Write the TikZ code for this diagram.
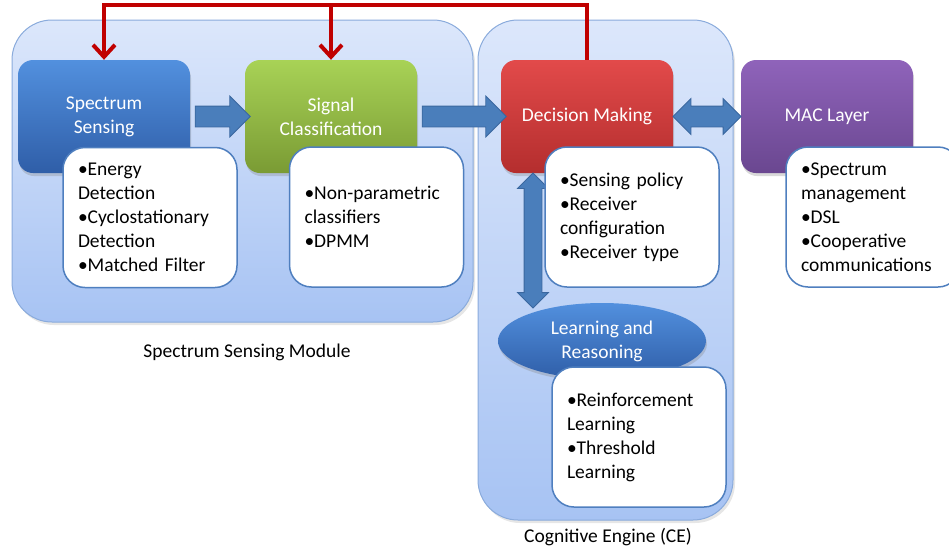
\documentclass[tikz,border=0pt]{standalone}
\usepackage{fontspec}
\setmainfont{Carlito}
\usetikzlibrary{shapes.arrows,shapes.geometric,shadows,arrows.meta,calc}
\definecolor{contTop}{HTML}{DCE7FB}
\definecolor{contBot}{HTML}{A7C3F3}
\definecolor{contLine}{HTML}{8AABDC}
\definecolor{listLine}{HTML}{4F7FBF}
\definecolor{arrFill}{HTML}{4A7EBB}
\definecolor{arrLine}{HTML}{3A679F}
\definecolor{redC}{HTML}{C00000}
\begin{document}
\begin{tikzpicture}[x=1pt,y=1pt,
  font=\fontsize{19.5}{24}\selectfont,
  container/.style={draw=contLine, line width=1pt, rounded corners=40pt, top color=contTop, bottom color=contBot,
     drop shadow={shadow xshift=2pt, shadow yshift=-3pt, opacity=0.2}},
  titlebox/.style={rounded corners=15pt, minimum width=172pt, minimum height=113pt, text=white, align=center,
     drop shadow={shadow xshift=1pt, shadow yshift=-3pt, opacity=0.3}},
  listbox/.style={draw=listLine, line width=1.5pt, fill=white, rounded corners=22pt, minimum width=174pt, minimum height=140pt,
     text width=144pt, align=left, inner xsep=15pt},
  barrow/.style={single arrow, draw=arrLine, fill=arrFill, line width=0.8pt, text height=0pt, text depth=0pt, inner xsep=0pt, inner ysep=10pt, single arrow head extend=10pt},
  dbarrow/.style={double arrow, draw=arrLine, fill=arrFill, line width=0.8pt, text height=0pt, text depth=0pt, inner xsep=0pt, inner ysep=10pt, double arrow head extend=7.5pt},
  redline/.style={draw=redC, line width=4pt, -{Straight Barb[length=12pt,width=22pt]}},
  caption/.style={text=black}
]
\useasboundingbox (0,0) rectangle (949,-552);

% containers
\node[container, minimum width=461pt, minimum height=302pt] (ssm) at (242.5,-171) {};
\node[container, minimum width=255pt, minimum height=500pt] (ce) at (605.5,-270) {};
\node[caption] (ssmlabel) at (247,-352) {Spectrum Sensing Module};
\node[caption] (celabel) at (608,-537) {Cognitive Engine (CE)};

% title boxes
\node[titlebox, top color={rgb,255:red,82;green,144;blue,222}, bottom color={rgb,255:red,47;green,94;blue,168}] (ss) at (104,-116.5) {Spectrum\\Sensing};
\node[titlebox, top color={rgb,255:red,168;green,210;blue,86}, bottom color={rgb,255:red,122;green,155;blue,52}] (sc) at (331,-116.5) {Signal\\Classification};
\node[titlebox, top color={rgb,255:red,226;green,74;blue,74}, bottom color={rgb,255:red,180;green,46;blue,46}] (dm) at (587,-116.5) {Decision Making};
\node[titlebox, top color={rgb,255:red,143;green,99;blue,186}, bottom color={rgb,255:red,106;green,71;blue,144}] (mac) at (827,-116.5) {MAC Layer};

% block arrows
\node[barrow, minimum height=55pt] (a1) at ($(ss.east)!0.5!(sc.west)$) {};
\node[barrow, minimum height=84pt] (a2) at ($(sc.east)!0.5!(dm.west)$) {};
\node[dbarrow, minimum height=68pt] (a3) at ($(dm.east)!0.5!(mac.west)$) {};
\node[dbarrow, minimum height=135pt, inner ysep=8.5pt, double arrow head extend=6.5pt, rotate=90] (a4) at (533,-240.5) {};

% red feedback
\coordinate (redtop) at (587,-5);
\draw[redline] (dm.north) -- (redtop) -| (ss.north);
\draw[redline] (sc.north |- redtop) -- (sc.north);

% lists
\node[listbox] (sslist) at (150,-217.5) {•Energy\\Detection\\•Cyclostationary\\Detection\\•Matched Filter};
\node[listbox] (sclist) at (376.5,-217) {•Non-parametric\\classifiers\\•DPMM};
\node[listbox] (dmlist) at (632,-217) {•Sensing policy\\•Receiver\\configuration\\•Receiver type};
\node[listbox] (maclist) at (873,-217) {•Spectrum\\management\\•DSL\\•Cooperative\\communications};

% learning
\node[ellipse, minimum width=208pt, minimum height=76pt, text=white, align=center,
   top color={rgb,255:red,82;green,144;blue,222}, bottom color={rgb,255:red,47;green,94;blue,168},
   drop shadow={shadow xshift=1pt, shadow yshift=-3pt, opacity=0.3}] (lr) at (602,-341) {Learning and\\Reasoning};
\node[listbox] (lrlist) at (639,-437) {•Reinforcement\\Learning\\•Threshold\\Learning};
\end{tikzpicture}
\end{document}
